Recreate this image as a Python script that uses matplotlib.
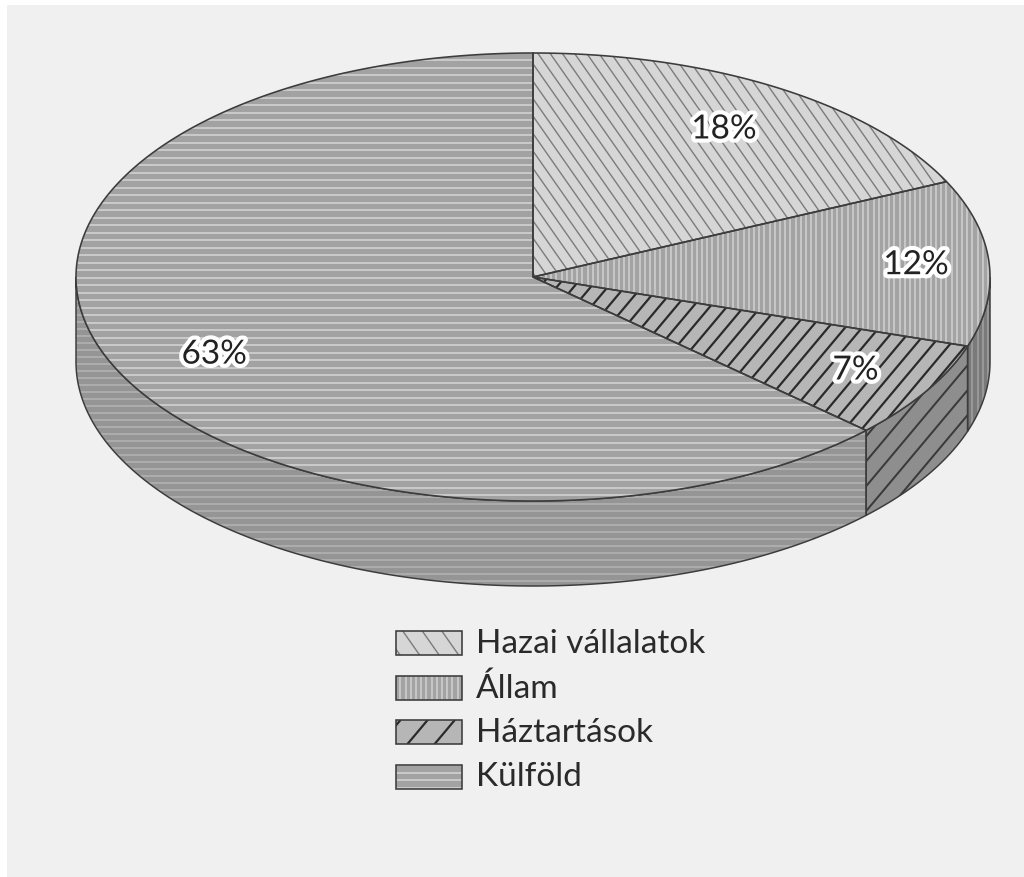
import numpy as np
import matplotlib
matplotlib.use("Agg")
import matplotlib.pyplot as plt
from matplotlib.patches import Polygon, Rectangle
from matplotlib.collections import LineCollection
import matplotlib.patheffects as pe

# ---- data ----
categories = ["Hazai vállalatok", "Állam", "Háztartások", "Külföld"]
shares = [18, 12, 7, 63]
pct_labels = ["18%", "12%", "7%", "63%"]

# ---- styles ----
top_face = ["#d6d6d6", "#a3a3a3", "#b6b6b6", "#a2a2a2"]
side_face = ["#bdbdbd", "#7a7a7a", "#8e8e8e", "#959595"]
top_hatch = [  # angle, spacing(px), color, lw(px)
    (-55, 10.0, "#7c7c7c", 1.4),
    (90, 5.2, "#cbcbcb", 1.8),
    (50, 13.0, "#2a2a2a", 2.2),
    (0, 7.5, "#d0d0d0", 1.7),
]
side_hatch = [
    (-55, 10.0, "#7c7c7c", 1.4),
    (90, 5.2, "#a0a0a0", 1.6),
    (50, 16.0, "#3a3a3a", 2.0),
    (0, 7.0, "#b2b2b2", 1.6),
]
label_r = [0.78, 0.84, 0.82, 0.76]
label_dy = [0, 0, 0, 10]
edge_col = "#3c3c3c"
PX = 0.72  # points per pixel at dpi 100

W, H = 1024, 877
fig = plt.figure(figsize=(W / 100, H / 100), dpi=100, facecolor="white")
ax = fig.add_axes([0, 0, 1, 1])
ax.set_xlim(0, W)
ax.set_ylim(H, 0)
ax.axis("off")
ax.add_patch(Rectangle((7, 5), W - 7, H - 5, facecolor="#f0f0f0", edgecolor="none", zorder=0))

cx, cy, a, b, depth = 533, 277, 457, 224, 85


def pt(theta, dz=0.0):
    t = np.radians(theta)
    return cx + a * np.cos(t), cy - b * np.sin(t) + dz


def add_hatch(patch, angle, spacing, color, lw, z):
    verts = patch.get_xy()
    xmin, ymin = verts.min(axis=0)
    xmax, ymax = verts.max(axis=0)
    t = np.radians(angle)
    d = np.array([np.cos(t), -np.sin(t)])
    n = np.array([np.sin(t), np.cos(t)])
    corners = np.array([[xmin, ymin], [xmin, ymax], [xmax, ymin], [xmax, ymax]])
    proj = corners @ n
    L = np.hypot(xmax - xmin, ymax - ymin) + 10
    c = np.array([(xmin + xmax) / 2, (ymin + ymax) / 2])
    segs = []
    for s in np.arange(np.floor(proj.min() / spacing) * spacing, proj.max() + spacing, spacing):
        p = n * s
        p = p + d * ((c - p) @ d)
        segs.append([p - d * L, p + d * L])
    lc = LineCollection(segs, colors=color, linewidths=lw * PX, zorder=z)
    ax.add_collection(lc)
    lc.set_clip_path(patch)


total = sum(shares)
bounds = [90.0]
for s in shares:
    bounds.append(bounds[-1] - 360.0 * s / total)

# ---- side faces (front half: angles between -180 and 0) ----
for i in range(len(shares)):
    t1, t2 = bounds[i], bounds[i + 1]
    lo, hi = max(t2, -180.0), min(t1, 0.0)
    if hi <= lo:
        continue
    th = np.linspace(hi, lo, 200)
    topx, topy = pt(th)
    botx, boty = pt(th[::-1], depth)
    poly = np.column_stack([np.concatenate([topx, botx]), np.concatenate([topy, boty])])
    face = Polygon(poly, closed=True, facecolor=side_face[i], edgecolor="none", zorder=2)
    ax.add_patch(face)
    ang, sp, hc, hlw = side_hatch[i]
    add_hatch(face, ang, sp, hc, hlw, 3)
    ax.add_patch(Polygon(poly, closed=True, facecolor="none", edgecolor=edge_col,
                         linewidth=1.5 * PX, zorder=4))

# ---- top faces ----
for i in range(len(shares)):
    t1, t2 = bounds[i], bounds[i + 1]
    th = np.linspace(t1, t2, 300)
    x, y = pt(th)
    poly = np.column_stack([np.concatenate([[cx], x]), np.concatenate([[cy], y])])
    face = Polygon(poly, closed=True, facecolor=top_face[i], edgecolor="none", zorder=5)
    ax.add_patch(face)
    ang, sp, hc, hlw = top_hatch[i]
    add_hatch(face, ang, sp, hc, hlw, 6)
    ax.add_patch(Polygon(poly, closed=True, facecolor="none", edgecolor=edge_col,
                         linewidth=1.6 * PX, joinstyle="miter", zorder=7))

# ---- percentage labels ----
for i in range(len(shares)):
    mid = (bounds[i] + bounds[i + 1]) / 2
    t = np.radians(mid)
    lx = cx + a * label_r[i] * np.cos(t)
    ly = cy - b * label_r[i] * np.sin(t) + label_dy[i]
    ax.text(lx, ly, pct_labels[i], fontsize=24, family="Lato", color="#222222",
            ha="center", va="center", zorder=10,
            path_effects=[pe.withStroke(linewidth=6, foreground="white")])

# ---- legend ----
leg_x, leg_y0, leg_dy, box_w, box_h = 396, 643, 44.5, 66, 24
for i, name in enumerate(categories):
    yc = leg_y0 + i * leg_dy
    ax.add_patch(Rectangle((leg_x, yc - box_h / 2), box_w, box_h, facecolor=top_face[i],
                           edgecolor="none", zorder=5))
    clip_box = Polygon([[leg_x, yc - box_h / 2], [leg_x + box_w, yc - box_h / 2],
                        [leg_x + box_w, yc + box_h / 2], [leg_x, yc + box_h / 2]],
                       closed=True, facecolor="none", edgecolor="none", zorder=5)
    ax.add_patch(clip_box)
    ang, sp, hc, hlw = top_hatch[i]
    add_hatch(clip_box, ang, sp * (1.6 if i in (0, 2) else 1.0), hc, hlw, 6)
    ax.add_patch(Rectangle((leg_x, yc - box_h / 2), box_w, box_h, facecolor="none",
                           edgecolor=edge_col, linewidth=1.6 * PX, zorder=7))
    ax.text(leg_x + box_w + 14, yc + 1, name, fontsize=24, family="Lato", color="#2a2a2a",
            ha="left", va="center", zorder=8)

fig.savefig("out.png", dpi=100, facecolor="white")
